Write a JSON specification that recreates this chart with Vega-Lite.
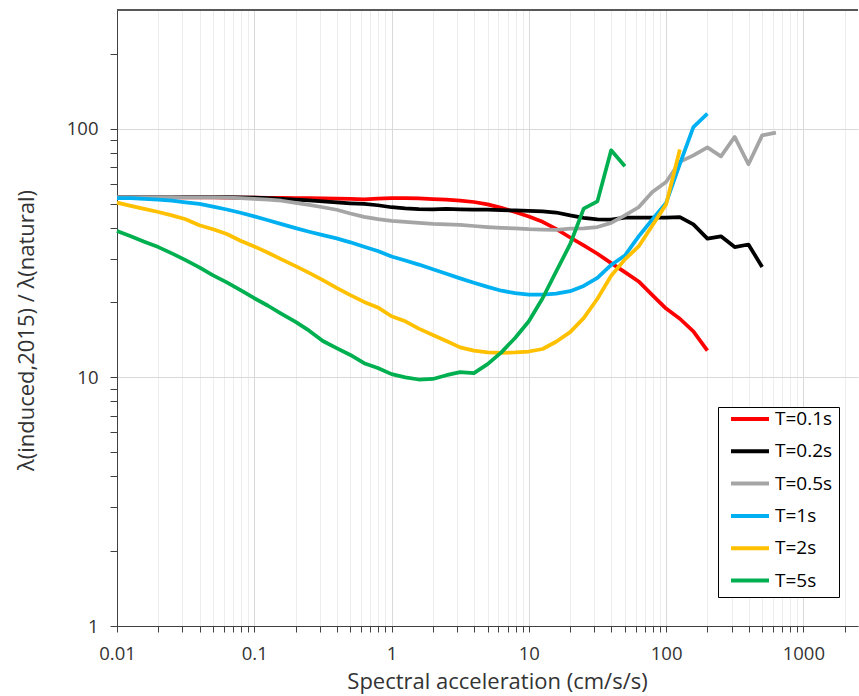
{
  "$schema": "https://vega.github.io/schema/vega-lite/v6.json",
  "width": 741,
  "height": 616,
  "autosize": {"type": "none"},
  "padding": {"left": 117, "top": 10, "right": 1, "bottom": 70},
  "background": "white",
  "config": {
    "font": "Open Sans",
    "view": {"stroke": null},
    "axis": {
      "domainColor": "#404040",
      "tickColor": "#404040",
      "labelColor": "#333333",
      "titleColor": "#333333",
      "labelFont": "Open Sans",
      "titleFont": "Open Sans",
      "labelFontSize": 18.5,
      "titleFontSize": 22,
      "titleFontWeight": "normal",
      "domainWidth": 1,
      "tickWidth": 1
    }
  },
  "data": {
    "values": [
      {"s":"T=0.1s","x":0.01,"y":53.0},{"s":"T=0.1s","x":0.0126,"y":53.0},{"s":"T=0.1s","x":0.0158,"y":53.0},{"s":"T=0.1s","x":0.02,"y":53.0},{"s":"T=0.1s","x":0.0251,"y":52.9},{"s":"T=0.1s","x":0.0316,"y":52.9},{"s":"T=0.1s","x":0.0398,"y":52.9},{"s":"T=0.1s","x":0.0501,"y":52.9},{"s":"T=0.1s","x":0.0631,"y":52.8},{"s":"T=0.1s","x":0.0794,"y":52.8},
      {"s":"T=0.1s","x":0.1,"y":52.8},{"s":"T=0.1s","x":0.126,"y":52.7},{"s":"T=0.1s","x":0.158,"y":52.7},{"s":"T=0.1s","x":0.2,"y":52.6},{"s":"T=0.1s","x":0.251,"y":52.5},{"s":"T=0.1s","x":0.316,"y":52.4},{"s":"T=0.1s","x":0.398,"y":52.3},{"s":"T=0.1s","x":0.501,"y":52.2},{"s":"T=0.1s","x":0.631,"y":52.0},{"s":"T=0.1s","x":0.794,"y":52.3},
      {"s":"T=0.1s","x":1,"y":52.6},{"s":"T=0.1s","x":1.26,"y":52.6},{"s":"T=0.1s","x":1.58,"y":52.4},{"s":"T=0.1s","x":2,"y":52.1},{"s":"T=0.1s","x":2.51,"y":51.8},{"s":"T=0.1s","x":3.16,"y":51.4},{"s":"T=0.1s","x":3.98,"y":50.7},{"s":"T=0.1s","x":5.01,"y":49.6},{"s":"T=0.1s","x":6.31,"y":48.0},{"s":"T=0.1s","x":7.94,"y":46.2},
      {"s":"T=0.1s","x":10,"y":44.3},{"s":"T=0.1s","x":12.6,"y":42.2},{"s":"T=0.1s","x":15.8,"y":39.5},{"s":"T=0.1s","x":20,"y":36.5},{"s":"T=0.1s","x":25.1,"y":33.9},{"s":"T=0.1s","x":31.6,"y":31.4},{"s":"T=0.1s","x":39.8,"y":28.8},{"s":"T=0.1s","x":50.1,"y":26.5},{"s":"T=0.1s","x":63.1,"y":24.3},{"s":"T=0.1s","x":79.4,"y":21.4},
      {"s":"T=0.1s","x":100,"y":18.9},{"s":"T=0.1s","x":126,"y":17.2},{"s":"T=0.1s","x":158,"y":15.3},{"s":"T=0.1s","x":200,"y":12.8},

      {"s":"T=0.2s","x":0.01,"y":53.0},{"s":"T=0.2s","x":0.0126,"y":53.0},{"s":"T=0.2s","x":0.0158,"y":53.0},{"s":"T=0.2s","x":0.02,"y":53.0},{"s":"T=0.2s","x":0.0251,"y":53.0},{"s":"T=0.2s","x":0.0316,"y":53.0},{"s":"T=0.2s","x":0.0398,"y":53.0},{"s":"T=0.2s","x":0.0501,"y":53.0},{"s":"T=0.2s","x":0.0631,"y":53.0},{"s":"T=0.2s","x":0.0794,"y":52.9},
      {"s":"T=0.2s","x":0.1,"y":52.8},{"s":"T=0.2s","x":0.126,"y":52.6},{"s":"T=0.2s","x":0.158,"y":52.2},{"s":"T=0.2s","x":0.2,"y":51.8},{"s":"T=0.2s","x":0.251,"y":51.5},{"s":"T=0.2s","x":0.316,"y":51.0},{"s":"T=0.2s","x":0.398,"y":50.5},{"s":"T=0.2s","x":0.501,"y":50.1},{"s":"T=0.2s","x":0.631,"y":49.8},{"s":"T=0.2s","x":0.794,"y":49.2},
      {"s":"T=0.2s","x":1,"y":48.3},{"s":"T=0.2s","x":1.26,"y":47.8},{"s":"T=0.2s","x":1.58,"y":47.5},{"s":"T=0.2s","x":2,"y":47.4},{"s":"T=0.2s","x":2.51,"y":47.6},{"s":"T=0.2s","x":3.16,"y":47.4},{"s":"T=0.2s","x":3.98,"y":47.3},{"s":"T=0.2s","x":5.01,"y":47.2},{"s":"T=0.2s","x":6.31,"y":47.0},{"s":"T=0.2s","x":7.94,"y":46.9},
      {"s":"T=0.2s","x":10,"y":46.7},{"s":"T=0.2s","x":12.6,"y":46.5},{"s":"T=0.2s","x":15.8,"y":46.0},{"s":"T=0.2s","x":20,"y":44.8},{"s":"T=0.2s","x":25.1,"y":43.8},{"s":"T=0.2s","x":31.6,"y":43.2},{"s":"T=0.2s","x":39.8,"y":43.1},{"s":"T=0.2s","x":50.1,"y":43.9},{"s":"T=0.2s","x":63.1,"y":43.9},{"s":"T=0.2s","x":79.4,"y":43.9},
      {"s":"T=0.2s","x":100,"y":43.9},{"s":"T=0.2s","x":126,"y":44.1},{"s":"T=0.2s","x":158,"y":41.2},{"s":"T=0.2s","x":200,"y":36.1},{"s":"T=0.2s","x":251,"y":36.9},{"s":"T=0.2s","x":316,"y":33.4},{"s":"T=0.2s","x":398,"y":34.2},{"s":"T=0.2s","x":501,"y":27.8},

      {"s":"T=0.5s","x":0.01,"y":53.0},{"s":"T=0.5s","x":0.0126,"y":53.0},{"s":"T=0.5s","x":0.0158,"y":53.0},{"s":"T=0.5s","x":0.02,"y":53.0},{"s":"T=0.5s","x":0.0251,"y":53.0},{"s":"T=0.5s","x":0.0316,"y":52.9},{"s":"T=0.5s","x":0.0398,"y":52.9},{"s":"T=0.5s","x":0.0501,"y":52.9},{"s":"T=0.5s","x":0.0631,"y":52.8},{"s":"T=0.5s","x":0.0794,"y":52.5},
      {"s":"T=0.5s","x":0.1,"y":52.2},{"s":"T=0.5s","x":0.126,"y":51.8},{"s":"T=0.5s","x":0.158,"y":51.3},{"s":"T=0.5s","x":0.2,"y":50.3},{"s":"T=0.5s","x":0.251,"y":49.4},{"s":"T=0.5s","x":0.316,"y":48.3},{"s":"T=0.5s","x":0.398,"y":47.2},{"s":"T=0.5s","x":0.501,"y":45.6},{"s":"T=0.5s","x":0.631,"y":44.2},{"s":"T=0.5s","x":0.794,"y":43.3},
      {"s":"T=0.5s","x":1,"y":42.6},{"s":"T=0.5s","x":1.26,"y":42.2},{"s":"T=0.5s","x":1.58,"y":41.8},{"s":"T=0.5s","x":2,"y":41.4},{"s":"T=0.5s","x":2.51,"y":41.2},{"s":"T=0.5s","x":3.16,"y":41.0},{"s":"T=0.5s","x":3.98,"y":40.6},{"s":"T=0.5s","x":5.01,"y":40.2},{"s":"T=0.5s","x":6.31,"y":39.9},{"s":"T=0.5s","x":7.94,"y":39.7},
      {"s":"T=0.5s","x":10,"y":39.4},{"s":"T=0.5s","x":12.6,"y":39.3},{"s":"T=0.5s","x":15.8,"y":39.2},{"s":"T=0.5s","x":20,"y":39.6},{"s":"T=0.5s","x":25.1,"y":39.7},{"s":"T=0.5s","x":31.6,"y":40.2},{"s":"T=0.5s","x":39.8,"y":41.8},{"s":"T=0.5s","x":50.1,"y":44.8},{"s":"T=0.5s","x":63.1,"y":48.3},{"s":"T=0.5s","x":79.4,"y":55.6},
      {"s":"T=0.5s","x":100,"y":61.0},{"s":"T=0.5s","x":126,"y":73.5},{"s":"T=0.5s","x":158,"y":78.1},{"s":"T=0.5s","x":200,"y":84.1},{"s":"T=0.5s","x":251,"y":77.4},{"s":"T=0.5s","x":316,"y":92.6},{"s":"T=0.5s","x":398,"y":71.9},{"s":"T=0.5s","x":501,"y":94.0},{"s":"T=0.5s","x":631,"y":96.4},

      {"s":"T=1s","x":0.01,"y":52.5},{"s":"T=1s","x":0.0126,"y":52.5},{"s":"T=1s","x":0.0158,"y":52.2},{"s":"T=1s","x":0.02,"y":51.8},{"s":"T=1s","x":0.0251,"y":51.3},{"s":"T=1s","x":0.0316,"y":50.5},{"s":"T=1s","x":0.0398,"y":49.8},{"s":"T=1s","x":0.0501,"y":48.6},{"s":"T=1s","x":0.0631,"y":47.3},{"s":"T=1s","x":0.0794,"y":45.9},
      {"s":"T=1s","x":0.1,"y":44.4},{"s":"T=1s","x":0.126,"y":42.8},{"s":"T=1s","x":0.158,"y":41.3},{"s":"T=1s","x":0.2,"y":39.8},{"s":"T=1s","x":0.251,"y":38.5},{"s":"T=1s","x":0.316,"y":37.3},{"s":"T=1s","x":0.398,"y":36.2},{"s":"T=1s","x":0.501,"y":34.9},{"s":"T=1s","x":0.631,"y":33.5},{"s":"T=1s","x":0.794,"y":32.2},
      {"s":"T=1s","x":1,"y":30.6},{"s":"T=1s","x":1.26,"y":29.5},{"s":"T=1s","x":1.58,"y":28.4},{"s":"T=1s","x":2,"y":27.2},{"s":"T=1s","x":2.51,"y":26.1},{"s":"T=1s","x":3.16,"y":25.0},{"s":"T=1s","x":3.98,"y":24.0},{"s":"T=1s","x":5.01,"y":23.1},{"s":"T=1s","x":6.31,"y":22.3},{"s":"T=1s","x":7.94,"y":21.8},
      {"s":"T=1s","x":10,"y":21.5},{"s":"T=1s","x":12.6,"y":21.5},{"s":"T=1s","x":15.8,"y":21.7},{"s":"T=1s","x":20,"y":22.2},{"s":"T=1s","x":25.1,"y":23.3},{"s":"T=1s","x":31.6,"y":25.1},{"s":"T=1s","x":39.8,"y":28.3},{"s":"T=1s","x":50.1,"y":30.9},{"s":"T=1s","x":63.1,"y":36.9},{"s":"T=1s","x":79.4,"y":43.1},
      {"s":"T=1s","x":100,"y":50.3},{"s":"T=1s","x":126,"y":72.1},{"s":"T=1s","x":158,"y":101.5},{"s":"T=1s","x":200,"y":114.9},

      {"s":"T=2s","x":0.01,"y":50.4},{"s":"T=2s","x":0.0126,"y":48.9},{"s":"T=2s","x":0.0158,"y":47.6},{"s":"T=2s","x":0.02,"y":46.2},{"s":"T=2s","x":0.0251,"y":44.8},{"s":"T=2s","x":0.0316,"y":43.2},{"s":"T=2s","x":0.0398,"y":40.9},{"s":"T=2s","x":0.0501,"y":39.4},{"s":"T=2s","x":0.0631,"y":37.7},{"s":"T=2s","x":0.0794,"y":35.4},
      {"s":"T=2s","x":0.1,"y":33.6},{"s":"T=2s","x":0.126,"y":31.7},{"s":"T=2s","x":0.158,"y":29.8},{"s":"T=2s","x":0.2,"y":28.0},{"s":"T=2s","x":0.251,"y":26.3},{"s":"T=2s","x":0.316,"y":24.6},{"s":"T=2s","x":0.398,"y":22.9},{"s":"T=2s","x":0.501,"y":21.4},{"s":"T=2s","x":0.631,"y":20.1},{"s":"T=2s","x":0.794,"y":19.1},
      {"s":"T=2s","x":1,"y":17.6},{"s":"T=2s","x":1.26,"y":16.8},{"s":"T=2s","x":1.58,"y":15.7},{"s":"T=2s","x":2,"y":14.8},{"s":"T=2s","x":2.51,"y":14.0},{"s":"T=2s","x":3.16,"y":13.2},{"s":"T=2s","x":3.98,"y":12.8},{"s":"T=2s","x":5.01,"y":12.6},{"s":"T=2s","x":6.31,"y":12.55},{"s":"T=2s","x":7.94,"y":12.6},
      {"s":"T=2s","x":10,"y":12.7},{"s":"T=2s","x":12.6,"y":13.0},{"s":"T=2s","x":15.8,"y":13.9},{"s":"T=2s","x":20,"y":15.2},{"s":"T=2s","x":25.1,"y":17.3},{"s":"T=2s","x":31.6,"y":20.7},{"s":"T=2s","x":39.8,"y":25.6},{"s":"T=2s","x":50.1,"y":29.8},{"s":"T=2s","x":63.1,"y":33.6},{"s":"T=2s","x":79.4,"y":40.8},
      {"s":"T=2s","x":100,"y":49.6},{"s":"T=2s","x":126,"y":82.5},

      {"s":"T=5s","x":0.01,"y":38.8},{"s":"T=5s","x":0.0126,"y":36.9},{"s":"T=5s","x":0.0158,"y":35.1},{"s":"T=5s","x":0.02,"y":33.4},{"s":"T=5s","x":0.0251,"y":31.5},{"s":"T=5s","x":0.0316,"y":29.6},{"s":"T=5s","x":0.0398,"y":27.7},{"s":"T=5s","x":0.0501,"y":25.7},{"s":"T=5s","x":0.0631,"y":24.1},{"s":"T=5s","x":0.0794,"y":22.4},
      {"s":"T=5s","x":0.1,"y":20.8},{"s":"T=5s","x":0.126,"y":19.4},{"s":"T=5s","x":0.158,"y":18.0},{"s":"T=5s","x":0.2,"y":16.7},{"s":"T=5s","x":0.251,"y":15.4},{"s":"T=5s","x":0.316,"y":14.0},{"s":"T=5s","x":0.398,"y":13.1},{"s":"T=5s","x":0.501,"y":12.3},{"s":"T=5s","x":0.631,"y":11.4},{"s":"T=5s","x":0.794,"y":10.9},
      {"s":"T=5s","x":1,"y":10.3},{"s":"T=5s","x":1.26,"y":10.0},{"s":"T=5s","x":1.58,"y":9.8},{"s":"T=5s","x":2,"y":9.85},{"s":"T=5s","x":2.51,"y":10.2},{"s":"T=5s","x":3.16,"y":10.5},{"s":"T=5s","x":3.98,"y":10.4},{"s":"T=5s","x":5.01,"y":11.3},{"s":"T=5s","x":6.31,"y":12.6},{"s":"T=5s","x":7.94,"y":14.4},
      {"s":"T=5s","x":10,"y":16.8},{"s":"T=5s","x":12.6,"y":20.8},{"s":"T=5s","x":15.8,"y":26.6},{"s":"T=5s","x":20,"y":34.3},{"s":"T=5s","x":25.1,"y":47.7},{"s":"T=5s","x":31.6,"y":51.0},{"s":"T=5s","x":39.8,"y":81.8},{"s":"T=5s","x":50.1,"y":70.6}
    ]
  },
  "layer": [
    {
      "mark": {"type": "line", "strokeWidth": 3.75, "strokeJoin": "round", "strokeCap": "butt"},
      "encoding": {
        "x": {
          "field": "x",
          "type": "quantitative",
          "scale": {"type": "log", "domain": [0.01, 2500], "nice": false},
          "axis": {
            "title": "Spectral acceleration (cm/s/s)",
            "values": [0.01,0.02,0.03,0.04,0.05,0.06,0.07,0.08,0.09,0.1,0.2,0.3,0.4,0.5,0.6,0.7,0.8,0.9,1,2,3,4,5,6,7,8,9,10,20,30,40,50,60,70,80,90,100,200,300,400,500,600,700,800,900,1000,2000],
            "format": "~g",
            "labelExpr": "(datum.value == 0.01 || datum.value == 0.1 || datum.value == 1 || datum.value == 10 || datum.value == 100 || datum.value == 1000) ? datum.label : ''",
            "labelOverlap": false,
            "labelFlush": false,
            "labelPadding": 12,
            "tickSize": 6,
            "grid": true,
            "gridWidth": 1,
            "gridColor": {
              "condition": {"test": "datum.value == 0.01 || datum.value == 0.1 || datum.value == 1 || datum.value == 10 || datum.value == 100 || datum.value == 1000", "value": "#D9D9D9"},
              "value": "#EDEDED"
            },
            "titleX": 380,
            "titleY": 45,
            "titleBaseline": "top",
            "titleAlign": "center"
          }
        },
        "y": {
          "field": "y",
          "type": "quantitative",
          "scale": {"type": "log", "domain": [1, 300], "nice": false},
          "axis": {
            "title": "λ(induced,2015) / λ(natural)",
            "values": [1,2,3,4,5,6,7,8,9,10,20,30,40,50,60,70,80,90,100,200],
            "format": "~g",
            "labelExpr": "(datum.value == 1 || datum.value == 10 || datum.value == 100) ? datum.label : ''",
            "labelOverlap": false,
            "labelFlush": false,
            "labelPadding": 12,
            "tickSize": 7,
            "grid": true,
            "gridWidth": 1,
            "gridColor": {
              "condition": {"test": "datum.value == 1 || datum.value == 10 || datum.value == 100", "value": "#D9D9D9"},
              "value": "transparent"
            },
            "titleX": -84,
            "titleY": 320,
            "titleAngle": -90,
            "titleBaseline": "alphabetic",
            "titleAlign": "center"
          }
        },
        "color": {
          "field": "s",
          "type": "nominal",
          "scale": {
            "domain": ["T=0.1s", "T=0.2s", "T=0.5s", "T=1s", "T=2s", "T=5s"],
            "range": ["#FF0000", "#000000", "#A5A5A5", "#00B0F0", "#FFC000", "#00B050"]
          },
          "legend": {
            "orient": "none",
            "legendX": 601,
            "legendY": 397,
            "title": null,
            "symbolType": "stroke",
            "symbolSize": 1444,
            "symbolStrokeWidth": 4,
            "symbolOffset": 5,
            "clipHeight": 12,
            "rowPadding": 13.3,
            "padding": 6,
            "strokeColor": "#000000",
            "fillColor": "#FFFFFF",
            "labelFont": "Open Sans",
            "labelFontSize": 19,
            "labelColor": "#000000",
            "labelOffset": 4
          }
        }
      }
    },
    {
      "mark": {"type": "rule", "color": "#595959", "strokeWidth": 1},
      "encoding": {"y": {"datum": 300}}
    }
  ]
}
